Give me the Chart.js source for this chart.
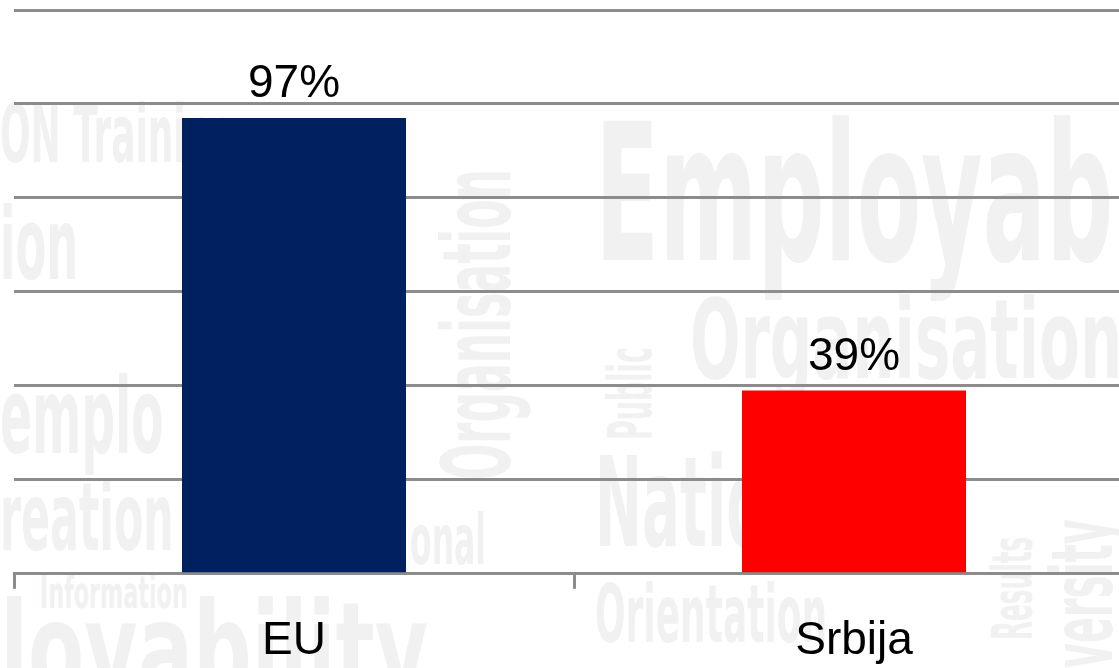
<!DOCTYPE html>
<html>
<head>
<meta charset="utf-8">
<script src="https://cdn.jsdelivr.net/npm/chart.js@4"></script>
<style>
  html, body { margin: 0; padding: 0; background: #fff; overflow: hidden; }
  #wrap { position: relative; width: 1119px; height: 668px; overflow: hidden; }
  #wrap canvas { position: absolute; left: 0; top: 0; }
  .wm { position: absolute; color: #f1f1f1; font-family: "DejaVu Sans Condensed", "DejaVu Sans", sans-serif;
        font-weight: bold; white-space: nowrap; transform-origin: 0 0; line-height: 1; }
</style>
</head>
<body>
<div id="wrap">
  <!-- mots en filigrane (fond) -->
  <div class="wm" style="left:595px;top:100px;font-size:190px;transform:scaleX(0.55)">Employability</div>
  <div class="wm" style="left:690px;top:285px;font-size:110px;transform:scaleX(0.6)">Organisation</div>
  <div class="wm" style="left:595px;top:440px;font-size:125px;transform:scaleX(0.5)">Nation</div>
  <div class="wm" style="left:595px;top:575px;font-size:80px;transform:scaleX(0.5)">Orientation</div>
  <div class="wm" style="left:40px;top:570px;font-size:45px;transform:scaleX(0.55)">Information</div>
  <div class="wm" style="left:0px;top:585px;font-size:130px;transform:scaleX(0.7)">loyability</div>
  <div class="wm" style="left:0px;top:95px;font-size:80px;transform:scaleX(0.5)">ON Training</div>
  <div class="wm" style="left:0px;top:195px;font-size:100px;transform:scaleX(0.5)">ion</div>
  <div class="wm" style="left:0px;top:365px;font-size:105px;transform:scaleX(0.5)">emplo</div>
  <div class="wm" style="left:0px;top:470px;font-size:95px;transform:scaleX(0.5)">reation</div>
  <div class="wm" style="left:410px;top:505px;font-size:70px;transform:scaleX(0.5)">onal</div>
  <div class="wm" style="left:430px;top:480px;font-size:95px;transform:rotate(-90deg) scaleX(0.5)">Organisation</div>
  <div class="wm" style="left:600px;top:440px;font-size:60px;transform:rotate(-90deg) scaleX(0.5)">Public</div>
  <div class="wm" style="left:985px;top:640px;font-size:55px;transform:rotate(-90deg) scaleX(0.5)">Results</div>
  <div class="wm" style="left:1040px;top:668px;font-size:85px;transform:rotate(-90deg) scaleX(0.5)">versity</div>
  <canvas id="barChart" width="1134" height="694"></canvas>
</div>
<script>
// Données du graphique
const categories = ["EU", "Srbija"];
const valeurs = [97, 39];
const couleurs = ["#002060", "#ff0000"];
const etiquettes = ["97%", "39%"];

// Plugin pour écrire les pourcentages au-dessus des barres
const etiquettesBarres = {
  id: "etiquettesBarres",
  afterDatasetsDraw(chart) {
    const ctx = chart.ctx;
    const meta = chart.getDatasetMeta(0);
    ctx.save();
    ctx.font = '46px "Liberation Sans", Arial, sans-serif';
    ctx.fillStyle = "#000";
    ctx.textAlign = "center";
    ctx.textBaseline = "alphabetic";
    meta.data.forEach((bar, i) => {
      ctx.fillText(etiquettes[i], bar.x, bar.y - 21);
    });
    ctx.restore();
  },
};

const ctx = document.getElementById("barChart").getContext("2d");
new Chart(ctx, {
  type: "bar",
  data: {
    labels: categories,
    datasets: [
      {
        data: valeurs,
        backgroundColor: couleurs,
        borderWidth: 0,
        barPercentage: 0.8,
        categoryPercentage: 0.5,
      },
    ],
  },
  options: {
    responsive: false,
    animation: false,
    layout: { padding: { left: 14, right: 0, top: 10, bottom: 0 } },
    plugins: { legend: { display: false }, tooltip: { enabled: false } },
    scales: {
      x: {
        grid: {
          offset: true,
          drawOnChartArea: false,
          drawTicks: true,
          tickLength: 15,
          color: "#8c8c8c",
          lineWidth: 3,
        },
        border: { display: true, color: "#8c8c8c", width: 3 },
        ticks: {
          color: "#000",
          padding: 25,
          font: { family: '"Liberation Sans", Arial, sans-serif', size: 46 },
        },
      },
      y: {
        min: 0,
        max: 120,
        ticks: { stepSize: 20, display: false },
        grid: { color: "#8c8c8c", lineWidth: 3, drawTicks: false, tickLength: 0 },
        border: { display: false },
      },
    },
  },
  plugins: [etiquettesBarres],
});
</script>
</body>
</html>
